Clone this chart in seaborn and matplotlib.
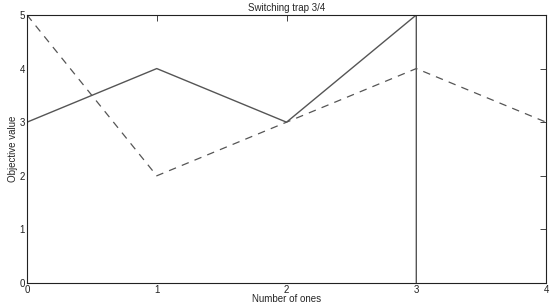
import matplotlib
matplotlib.use('Agg')
import matplotlib.pyplot as plt
import seaborn as sns

# solid series goes up to (3,5) then drops straight down to (3,0)
solid_x = [0, 1, 2, 3, 3]
solid_y = [3, 4, 3, 5, 0]
dashed_x = [0, 1, 2, 3, 4]
dashed_y = [5, 2, 3, 4, 3]

sns.set_style('white')
plt.rcParams['font.family'] = ['Liberation Sans', 'DejaVu Sans']

fig = plt.figure(figsize=(5.54, 3.05), dpi=100)
ax = fig.add_axes([0.0487, 0.072, 0.937, 0.879])

sns.lineplot(x=solid_x, y=solid_y, sort=False, estimator=None, color='#555555',
             linewidth=1.0, ax=ax)
sns.lineplot(x=dashed_x, y=dashed_y, sort=False, estimator=None, color='#555555',
             linewidth=0.9, linestyle=(0, (6, 5)), ax=ax)

ax.set_xlim(0, 4)
ax.set_ylim(0, 5)
ax.set_xticks([0, 1, 2, 3, 4])
ax.set_yticks([0, 1, 2, 3, 4, 5])
ax.tick_params(direction='in', top=True, right=True, length=4, width=0.6,
               labelsize=7, pad=1.5, colors='#222222')
for s in ax.spines.values():
    s.set_linewidth(0.8)
    s.set_color('#222222')
ax.set_title('Switching trap 3/4', fontsize=7, pad=3)
ax.set_xlabel('Number of ones', fontsize=7, labelpad=-0.5)
ax.set_ylabel('Objective value', fontsize=7, labelpad=1)

fig.savefig('out.png', dpi=100)
